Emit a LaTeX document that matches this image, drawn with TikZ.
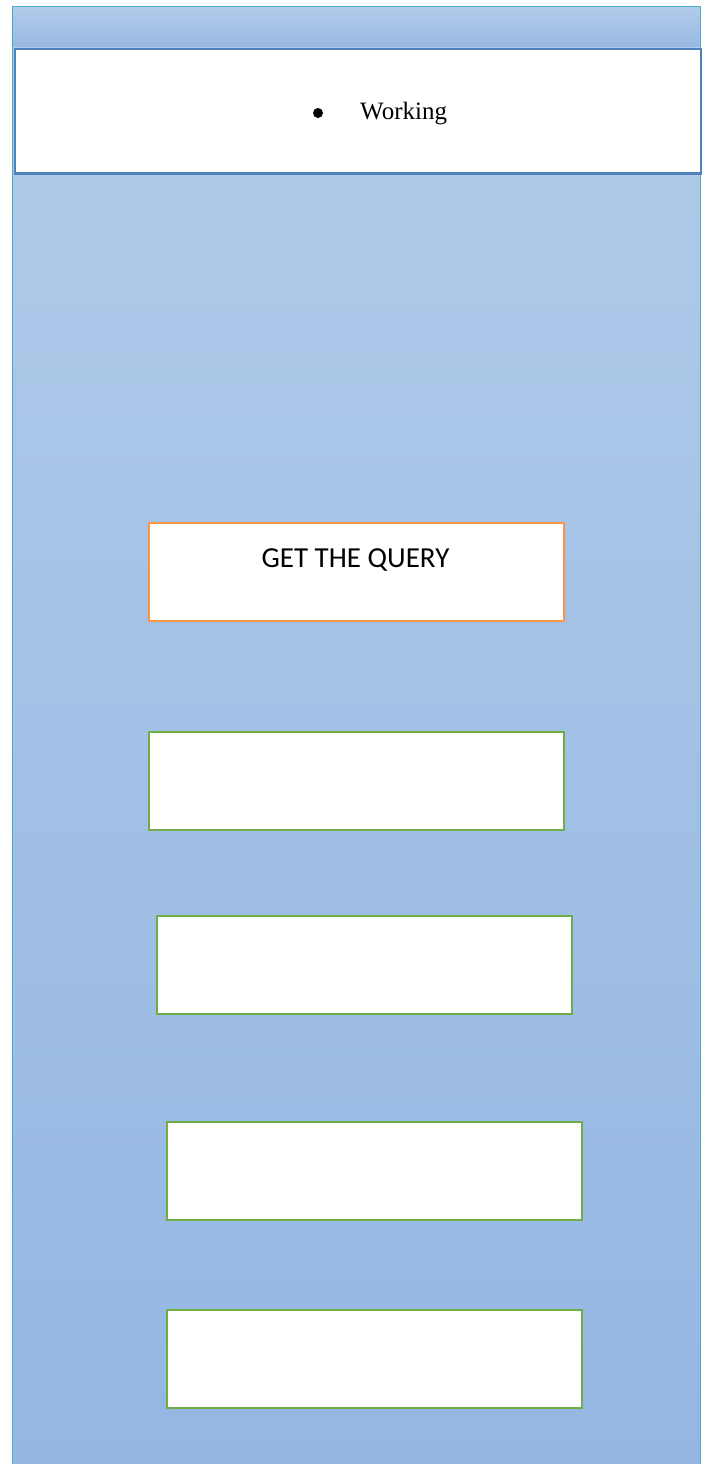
\documentclass[tikz,border=0pt]{standalone}
\usepackage{fontspec}
\setmainfont{Liberation Serif}
\newfontfamily\calfont{Carlito}
\definecolor{bgtop}{HTML}{B3CBEA}
\definecolor{bgband}{HTML}{96B8E2}
\definecolor{bgmain}{HTML}{B1CAE9}
\definecolor{bgbot}{HTML}{94B7E2}
\definecolor{frame}{HTML}{4BACC6}
\definecolor{hdr}{HTML}{4F81BD}
\definecolor{orng}{HTML}{F79646}
\definecolor{grn}{HTML}{70AD47}
\tikzset{
  px/.style={x=1pt,y=-1pt},
  orangebox/.style={draw=orng,line width=2pt,fill=white},
  greenbox/.style={draw=grn,line width=2pt,fill=white},
}
\begin{document}
\begin{tikzpicture}[px]
\useasboundingbox (0,0) rectangle (705,1464);
% background
\shade[top color=bgtop,bottom color=bgband] (12.5,7) rectangle (700.5,48);
\shade[top color=bgmain,bottom color=bgbot] (12.5,48) rectangle (700.5,1464);
\draw[frame,line width=1pt] (12.5,1464) -- (12.5,7) -- (700.5,7) -- (700.5,1464);
% header
\node[draw=hdr,line width=2.5pt,fill=white,minimum width=686pt,minimum height=124pt,inner sep=0pt,anchor=north west] (hdrbox) at (13.5,48) {};
\node[circle,fill=black,minimum size=10pt,inner sep=0pt] (bul) at (318,113) {};
\node[font=\fontsize{25}{30}\selectfont,anchor=west,inner sep=0pt] (work) at (360,114) {Working};
% boxes
\node[orangebox,minimum width=415pt,minimum height=98pt,inner sep=0pt,anchor=north west] (q) at (148,522) {};
\node[font=\calfont\fontsize{29}{34}\selectfont] (qt) at (355.5,560) {GET THE QUERY};
\node[greenbox,minimum width=415pt,minimum height=98pt,inner sep=0pt,anchor=north west] (g1) at (148,731) {};
\node[greenbox,minimum width=415pt,minimum height=98pt,inner sep=0pt,anchor=north west] (g2) at (156,915) {};
\node[greenbox,minimum width=415pt,minimum height=98pt,inner sep=0pt,anchor=north west] (g3) at (166,1121) {};
\node[greenbox,minimum width=415pt,minimum height=98pt,inner sep=0pt,anchor=north west] (g4) at (166,1309) {};
\end{tikzpicture}
\end{document}
